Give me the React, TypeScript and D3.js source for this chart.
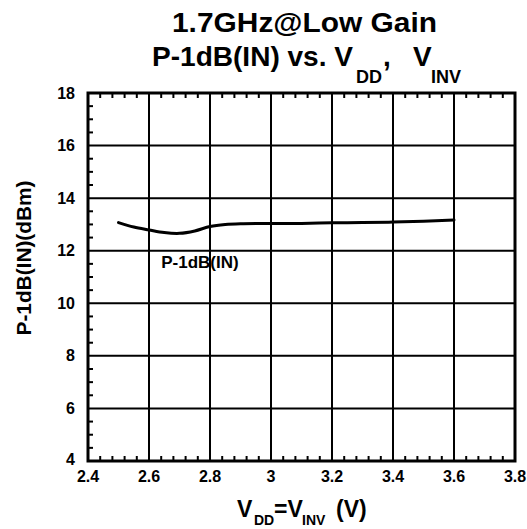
import React from "react";
import * as d3 from "d3";

const xValues = [2.5, 2.55, 2.6, 2.65, 2.7, 2.75, 2.8, 2.85, 2.9, 3.0, 3.1, 3.2, 3.3, 3.4, 3.5, 3.6];
const p1dbIn = [13.07, 12.9, 12.79, 12.69, 12.66, 12.75, 12.92, 13.0, 13.03, 13.04, 13.04, 13.06, 13.07, 13.09, 13.12, 13.17];
const xTicks = [2.4, 2.6, 2.8, 3.0, 3.2, 3.4, 3.6, 3.8];
const yTicks = [4, 6, 8, 10, 12, 14, 16, 18];
const seriesLabel = "P-1dB(IN)";

const W = 527;
const H = 529;
const FONT = "'Liberation Sans', Arial, Helvetica, sans-serif";

export default function App() {
  const x = d3.scaleLinear().domain([2.4, 3.8]).range([88, 515]);
  const y = d3.scaleLinear().domain([4, 18]).range([461, 93]);

  const xMinor = d3.range(2.4, 3.8001, 0.04).filter((v) => Math.abs(Math.round(v * 5) - v * 5) > 1e-6);
  const yMinor = d3.range(4, 18.001, 0.5).filter((v) => Math.abs(v % 2) > 1e-6);

  const line = d3
    .line<number>()
    .x((_, i) => x(xValues[i]))
    .y((d) => y(d))
    .curve(d3.curveCatmullRom.alpha(0.5));

  const [x0, x1] = x.range();
  const [y0, y1] = y.range();

  return (
    <svg
      width={W}
      height={H}
      style={{ position: "absolute", left: 0, top: 0, background: "#fff" }}
      fontFamily={FONT}
      fontWeight="bold"
    >
      <rect x={0} y={0} width={W} height={H} fill="#fff" />
      {/* Title */}
      <text x={172} y={32} fontSize={28} textLength={265} lengthAdjust="spacingAndGlyphs" fill="#000">
        1.7GHz@Low Gain
      </text>
      <text y={66} fill="#000">
        <tspan x={152} fontSize={28} textLength={201} lengthAdjust="spacingAndGlyphs">
          P-1dB(IN) vs. V
        </tspan>
        <tspan x={356} y={83} fontSize={18}>DD</tspan>
        <tspan x={383} y={66} fontSize={28}>,</tspan>
        <tspan x={413} y={66} fontSize={28}>V</tspan>
        <tspan x={431} y={83} fontSize={18}>INV</tspan>
      </text>

      {/* Gridlines */}
      {xTicks.slice(1, -1).map((t) => (
        <line key={"gx" + t} x1={x(t)} x2={x(t)} y1={y1} y2={y0} stroke="#000" strokeWidth={2} />
      ))}
      {yTicks.slice(1, -1).map((t) => (
        <line key={"gy" + t} x1={x0} x2={x1} y1={y(t)} y2={y(t)} stroke="#000" strokeWidth={2} />
      ))}

      {/* Minor ticks */}
      {xMinor.map((t) => (
        <g key={"mx" + t}>
          <line x1={x(t)} x2={x(t)} y1={y0} y2={y0 - 5} stroke="#000" strokeWidth={2} />
          <line x1={x(t)} x2={x(t)} y1={y1} y2={y1 + 5} stroke="#000" strokeWidth={2} />
        </g>
      ))}
      {yMinor.map((t) => (
        <line key={"my" + t} x1={x0} x2={x0 + 5} y1={y(t)} y2={y(t)} stroke="#000" strokeWidth={2} />
      ))}

      {/* Border */}
      <rect x={x0} y={y1} width={x1 - x0} height={y0 - y1} fill="none" stroke="#000" strokeWidth={3} />

      {/* Curve */}
      <path d={line(p1dbIn) || ""} fill="none" stroke="#000" strokeWidth={3} strokeLinejoin="round" strokeLinecap="round" />
      <text x={x(2.64)} y={y(11.4) + 2} fontSize={17} fill="#000">
        {seriesLabel}
      </text>

      {/* Tick labels */}
      {xTicks.map((t) => (
        <text key={"tx" + t} x={x(t)} y={482} fontSize={16} textAnchor="middle" fill="#000">
          {d3.format("~g")(t)}
        </text>
      ))}
      {yTicks.map((t) => (
        <text
          key={"ty" + t}
          x={75}
          y={t === 4 ? y(t) - 2 : y(t)}
          fontSize={16}
          textAnchor="end"
          dominantBaseline="central"
          fill="#000"
        >
          {t}
        </text>
      ))}

      {/* Y axis title */}
      <text
        transform={`translate(31,258) rotate(-90)`}
        fontSize={21}
        textAnchor="middle"
        textLength={155}
        lengthAdjust="spacingAndGlyphs"
        fill="#000"
      >
        P-1dB(IN)(dBm)
      </text>

      {/* X axis title */}
      <text y={517} fill="#000">
        <tspan x={237} fontSize={23}>V</tspan>
        <tspan x={254} y={525} fontSize={14}>DD</tspan>
        <tspan x={274} y={517} fontSize={23}>=V</tspan>
        <tspan x={302} y={525} fontSize={14}>INV</tspan>
        <tspan x={336} y={517} fontSize={23}>(V)</tspan>
      </text>
    </svg>
  );
}
